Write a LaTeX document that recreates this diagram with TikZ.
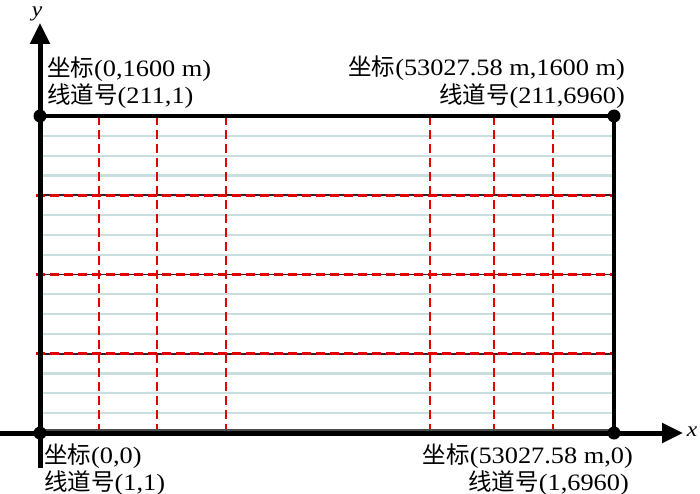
\documentclass[tikz,border=0pt]{standalone}
\usepackage{fontspec}
\setmainfont{Liberation Serif}[FakeStretch=1.12]
\newfontfamily\cjk{Noto Sans CJK SC}
\usetikzlibrary{arrows.meta}
\definecolor{gridc}{HTML}{C9DEDF}
\begin{document}
\begin{tikzpicture}[x=1pt,y=-1pt,
  lbl/.style={font=\fontsize{23.5}{27}\selectfont, inner sep=0pt},
  axlbl/.style={font=\fontsize{21}{24}\selectfont\itshape, inner sep=0pt},
  dotnode/.style={circle,fill=black,inner sep=0pt,minimum size=13pt},
  gridline/.style={draw=gridc, line width=2.2pt},
  blkline/.style={draw=black!85, line width=1.6pt},
  reddash/.style={draw=red!90!black, line width=2.6pt, dash pattern=on 9pt off 5pt},
  border/.style={draw=black, line width=4.5pt},
  axis/.style={draw=black, line width=5pt, -{Triangle[length=21pt,width=19pt]}},
  botline/.style={draw=black!70, line width=2.4pt}]
\useasboundingbox (0,0) rectangle (700,494);

% grid of light lines
\foreach \k in {1,2,3,5,6,7,9,10,11,13,14,15}{
  \coordinate (gl\k) at (40,{116+\k*19.8125});
  \coordinate (gr\k) at (614,{116+\k*19.8125});
  \draw[gridline] (gl\k) -- (gr\k);
}
% red dashed horizontal lines
\foreach \k in {4,8,12}{
  \coordinate (hl\k) at (36,{116+\k*19.8125});
  \coordinate (hr\k) at (614,{116+\k*19.8125});
  \draw[blkline] (hl\k) -- (hr\k);
  \draw[reddash] (hl\k) -- (hr\k);
}
% red dashed vertical lines
\foreach \xx [count=\i] in {99,157,226,430,494,553}{
  \coordinate (vt\i) at (\xx,116);
  \coordinate (vb\i) at (\xx,433);
  \draw[reddash] (vt\i) -- (vb\i);
}
% bottom dark line
\coordinate (bl) at (40,430);
\coordinate (br) at (614,430);
\draw[botline] (bl) -- (br);

% corners
\coordinate (o) at (40,433);
\coordinate (tl) at (40,116);
\coordinate (tr) at (614,116);
\coordinate (brc) at (614,433);
\draw[border] (tl) -- (tr) -- (brc);

% axes
\coordinate (ybot) at (40,468);
\coordinate (ytop) at (40,23);
\coordinate (xleft) at (0,433);
\coordinate (xright) at (683,433);
\draw[axis] (ybot) -- (ytop);
\draw[axis] (xleft) -- (xright);

% dots
\node[dotnode] (d1) at (o) {};
\node[dotnode] (d2) at (tl) {};
\node[dotnode] (d3) at (tr) {};
\node[dotnode] (d4) at (brc) {};

% axis labels
\node[axlbl, anchor=base] (ylab) at (37,17) {y};
\node[axlbl] (xlab) at (692,432) {x};

% corner labels
\node[lbl, anchor=base west] (t1a) at (47,77) {{\cjk 坐标}(0,1600 m)};
\node[lbl, anchor=base west] (t1b) at (47,104) {{\cjk 线道号}(211,1)};
\node[lbl, anchor=base east] (t2a) at (625,76) {{\cjk 坐标}(53027.58 m,1600 m)};
\node[lbl, anchor=base east] (t2b) at (625,104) {{\cjk 线道号}(211,6960)};
\node[lbl, anchor=base west] (t3a) at (44,463) {{\cjk 坐标}(0,0)};
\node[lbl, anchor=base west] (t3b) at (44,490) {{\cjk 线道号}(1,1)};
\node[lbl, anchor=base east] (t4a) at (633,463) {{\cjk 坐标}(53027.58 m,0)};
\node[lbl, anchor=base east] (t4b) at (629,490) {{\cjk 线道号}(1,6960)};
\end{tikzpicture}
\end{document}
